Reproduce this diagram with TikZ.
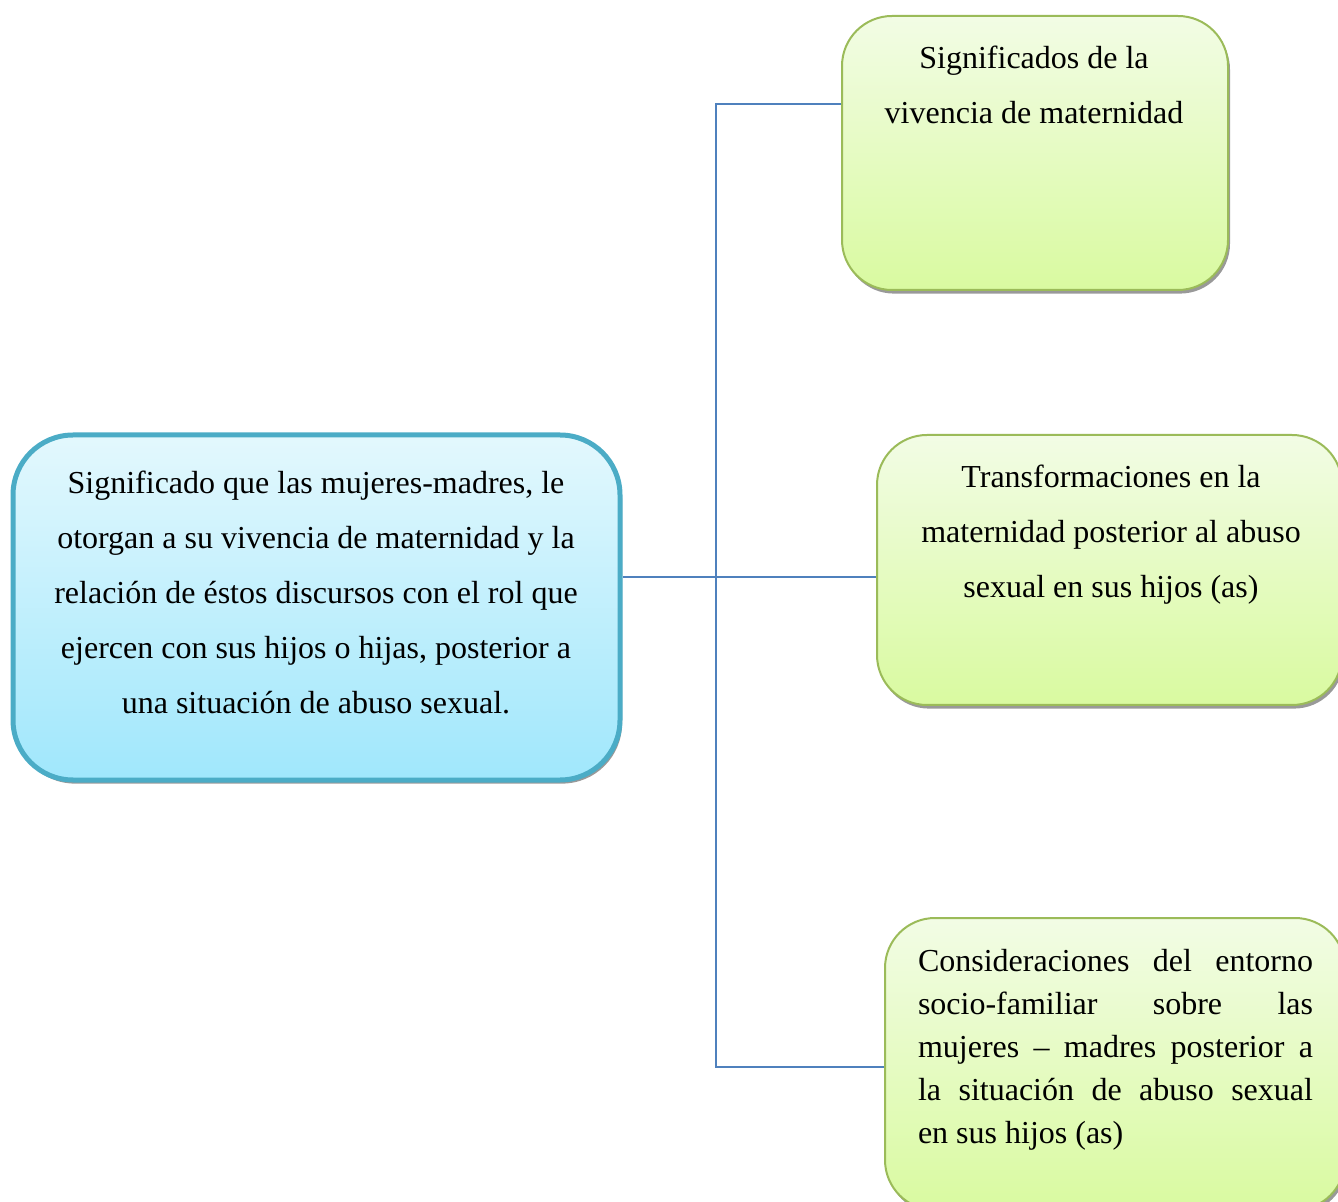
\documentclass[tikz,border=0pt]{standalone}
\usepackage{fontspec}
\setmainfont{Liberation Serif}
\usetikzlibrary{shadows}

\definecolor{mainline}{HTML}{4BACC6}
\definecolor{maintop}{HTML}{E3F8FD}
\definecolor{mainbot}{HTML}{A0E7FC}
\definecolor{subline}{HTML}{9BBB59}
\definecolor{subtop}{HTML}{F2FCE5}
\definecolor{subbot}{HTML}{D9FAA0}
\definecolor{linkcol}{HTML}{4F81BD}

\tikzset{
  boxshadow/.style={drop shadow={shadow xshift=1pt,shadow yshift=-1.8pt,fill=black!40,opacity=1}},
  mainbox/.style={rectangle,rounded corners=30pt,draw=mainline,line width=2.5pt,
    top color=maintop,bottom color=mainbot,boxshadow},
  subbox/.style={rectangle,rounded corners=25pt,draw=subline,line width=1pt,
    top color=subtop,bottom color=subbot,boxshadow},
  boxtext/.style={inner sep=0pt,align=center,font=\fontsize{16}{27.5}\selectfont},
  link/.style={draw=linkcol,line width=0.75pt}
}

\begin{document}
\begin{tikzpicture}[x=0.5pt,y=-0.5pt]
	\useasboundingbox (0,0) rectangle (1338,1202);
	\clip (0,0) rectangle (1338,1202);

	\node[mainbox,minimum width=303.5pt,minimum height=172.5pt](main) at (316.5,607.5){};
	\node[subbox,minimum width=193pt,minimum height=137pt](sig) at (1035,153){};
	\node[subbox,minimum width=232.5pt,minimum height=135pt](trans) at (1109.5,570){};
	\node[subbox,minimum width=230pt,minimum height=146pt](cons) at (1115,1064){};

	\node[boxtext](main-txt) at (316,592){Significado que las mujeres-madres, le\\
		otorgan a su vivencia de maternidad y la\\
		relación de éstos discursos con el rol que\\
		ejercen con sus hijos o hijas, posterior a\\
		una situación de abuso sexual.};
	\node[boxtext](sig-txt) at (1034,85){Significados de la\\vivencia de maternidad};
	\node[boxtext](trans-txt) at (1111,535){Transformaciones en la\\
		maternidad posterior al abuso\\sexual en sus hijos (as)};
	\node[inner sep=0pt,text width=197.5pt,align=justify,
		font=\fontsize{16}{21.5}\selectfont](cons-txt) at (1115.5,1050){Consideraciones del entorno\linebreak
		socio-familiar sobre las\linebreak
		mujeres – madres posterior a\linebreak
		la situación de abuso sexual\linebreak
		en sus hijos (as)};

	\coordinate (fork-y) at (716,577);
	\coordinate (top-y) at (716,104);
	\coordinate (bot-y) at (716,1067);

	\draw[link](main.east |- fork-y) -- (trans.west |- fork-y);
	\draw[link](sig.west |- top-y) -- (top-y) -- (bot-y) -- (cons.west |- bot-y);
\end{tikzpicture}
\end{document}
